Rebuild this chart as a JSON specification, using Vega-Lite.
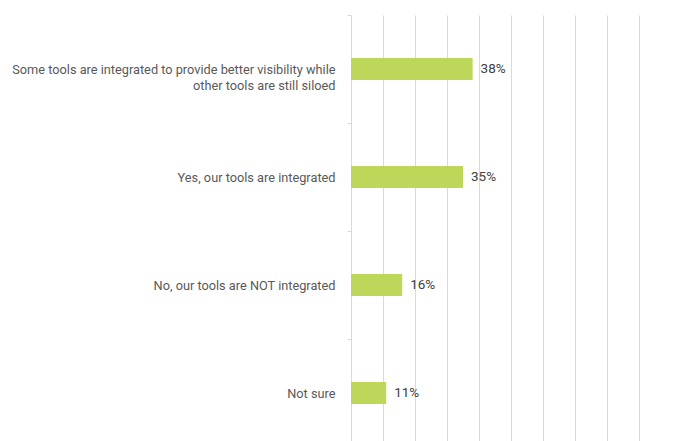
{
  "$schema": "https://vega.github.io/schema/vega-lite/v6.json",
  "width": 320,
  "height": 432,
  "autosize": "none",
  "padding": {"left": 351, "top": 15, "right": 0, "bottom": 0},
  "background": "white",
  "config": {
    "view": {"stroke": null},
    "font": "Roboto"
  },
  "data": {
    "values": [
      {"answer": "Some tools are integrated to provide better visibility while|other tools are still siloed", "share": 0.38},
      {"answer": "Yes, our tools are integrated", "share": 0.35},
      {"answer": "No, our tools are NOT integrated", "share": 0.16},
      {"answer": "Not sure", "share": 0.11}
    ]
  },
  "encoding": {
    "y": {
      "field": "answer",
      "type": "nominal",
      "sort": null,
      "title": null,
      "scale": {"paddingInner": 0, "paddingOuter": 0},
      "axis": {
        "domain": false,
        "ticks": true,
        "tickBand": "extent",
        "tickSize": 4,
        "tickColor": "#d9d9d9",
        "labelPadding": 12,
        "labelFontSize": 12.75,
        "labelColor": "#595959",
        "labelFont": "Roboto",
        "labelFontWeight": "normal",
        "labelLimit": 400,
        "labelLineHeight": 16,
        "labelExpr": "split(datum.label, '|')",
        "grid": false
      }
    },
    "x": {
      "field": "share",
      "type": "quantitative",
      "title": null,
      "scale": {"domain": [0, 1], "nice": false},
      "axis": {
        "labels": false,
        "ticks": false,
        "domain": false,
        "grid": true,
        "gridColor": "#d9d9d9",
        "gridWidth": 1,
        "values": [0, 0.1, 0.2, 0.3, 0.4, 0.5, 0.6, 0.7, 0.8, 0.9, 1.0]
      }
    }
  },
  "layer": [
    {
      "mark": {"type": "bar", "height": 22, "color": "#bdd75b"}
    },
    {
      "mark": {"type": "text", "align": "left", "baseline": "middle", "dx": 8, "fontSize": 13.5, "fontWeight": "normal", "color": "#404040", "font": "Roboto"},
      "encoding": {
        "text": {"field": "share", "type": "quantitative", "format": ".0%"}
      }
    }
  ]
}
